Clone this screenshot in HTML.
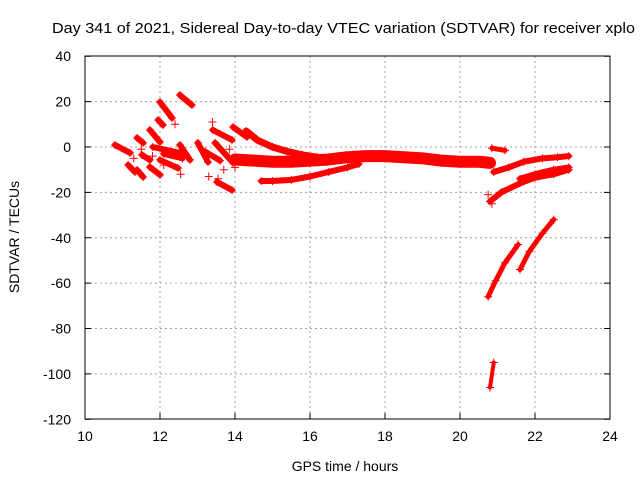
<!DOCTYPE html>
<html><head><meta charset="utf-8"><style>
body{margin:0;background:#fff}
svg{display:block;font-family:"Liberation Sans",sans-serif}
</style></head><body>
<svg id="chart" width="640" height="480">
<text x="52" y="33" font-size="15" textLength="583" lengthAdjust="spacingAndGlyphs" fill="#000">Day 341 of 2021, Sidereal Day-to-day VTEC variation (SDTVAR) for receiver xplo</text>
<text x="345" y="471" font-size="14" text-anchor="middle">GPS time / hours</text>
<text transform="translate(19,237) rotate(-90)" font-size="14" text-anchor="middle">SDTVAR / TECUs</text>
<g id="grid"></g><g id="marks"></g><g id="axes"></g>
</svg>
<script>
const xTicks=[10,12,14,16,18,20,22,24];
const yTicks=[40,20,0,-20,-40,-60,-80,-100,-120];
// arcs: x arrays and y arrays
const arcX=[
 [14.0,14.5,15,15.5,16,16.5,17,17.5,18,18.5,19,19.5,20,20.5,20.8],
 [14.3,14.6,15,15.4,15.8,16.2],
 [14.7,15,15.5,16,16.5,17,17.3],
 [20.85,21.2],
 [20.9,21.3,21.7,22.2,22.6,22.9],
 [20.8,21.1,21.6,22,22.5,22.9],
 [21.6,22,22.5,22.9],
 [20.75,20.95,21.2,21.55],
 [21.6,21.85,22.2,22.5],
 [20.8,20.9]
];
const arcY=[
 [-5.5,-6,-6.5,-6.5,-6,-5.5,-4.5,-4,-4,-4.5,-5,-6,-6.5,-6.5,-7],
 [7,3,0,-2,-3.5,-4.5],
 [-15,-15,-14.5,-13,-11,-9,-7.5],
 [-0.5,-1.5],
 [-11,-9,-6.5,-5,-4.5,-4],
 [-24,-20,-16,-13.5,-12,-10],
 [-14,-12,-10,-9],
 [-66,-59,-51,-43],
 [-54,-46,-38,-32],
 [-106,-95]
];
const arcW=[12,7,6,5,6,6,6,5,5,4];
const streakX1=[12.53,12.0,11.95,11.73,10.8,11.39,11.81,12.53,11.15,11.73,12.0,11.39,13.01,13.41,13.47,13.52,13.95,11.52,12.1,13.2];
const streakX2=[12.85,12.32,12.08,12.0,11.2,11.55,12.53,12.8,11.33,12.0,12.48,11.55,13.28,13.92,13.95,13.92,14.32,11.73,12.6,13.6];
const streakY1=[22.9,19.8,11.9,7.5,0.9,4,0,0.9,-7.9,-8.8,-5.7,-10.1,1.8,7.5,1.8,-15.4,8.8,-3.5,-3,-2];
const streakY2=[18.5,12.8,9.7,2.2,-2.6,1.8,-2.6,-5.7,-11,-12.3,-9.3,-13.2,-6.6,3.1,-7,-19,4.4,-5.7,-5,-6];
const ptX=[13.4,12.4,11.3,11.8,12.55,13.3,13.7,13.55,14.0,13.85,12.1,11.5,20.75,20.85];
const ptY=[11,10,-5,-4,-12,-13,-10,-14,-9,-1,-8,-1,-21,-25];
const X=v=>85+(v-10)*37.5, Y=v=>147-v*2.2688;
const NS="http://www.w3.org/2000/svg";
function mk(t,a,p){const e=document.createElementNS(NS,t);for(const k in a)e.setAttribute(k,a[k]);p.appendChild(e);return e;}
const grid=document.getElementById('grid'),marks=document.getElementById('marks'),axes=document.getElementById('axes');
xTicks.forEach(t=>{
 if(t>10&&t<24){const l=mk('line',{x1:X(t),x2:X(t),y1:56,y2:419,stroke:'#a0a0a0','stroke-dasharray':'2,3'},grid);
 
 }
 const tk=mk('line',{x1:X(t),x2:X(t),y1:419,y2:413,stroke:'#000'},axes);
 
 
 const tx=mk('text',{x:X(t),y:441,'font-size':14,'text-anchor':'middle'},axes);tx.textContent=t;
 
 
});
yTicks.forEach(t=>{
 if(t<40&&t>-120){const l=mk('line',{x1:85,x2:610,y1:Y(t),y2:Y(t),stroke:'#a0a0a0','stroke-dasharray':'2,3'},grid);
 
 }
 const a=mk('line',{x1:85,x2:91,y1:Y(t),y2:Y(t),stroke:'#000'},axes);
 
 
 const b=mk('line',{x1:604,x2:610,y1:Y(t),y2:Y(t),stroke:'#000'},axes);
 
 
 const tx=mk('text',{x:71,y:Y(t)+5,'font-size':14,'text-anchor':'end'},axes);tx.textContent=t;
 
 
});
const fr=mk('rect',{x:85,y:56,width:525,height:363,fill:'none',stroke:'#000'},axes);


function plus(x,y){const p=mk('path',{d:`M${x-4},${y}h8M${x},${y-4}v8`,stroke:'#f00','stroke-width':1},marks);
 
 }
arcX.forEach((xs,i)=>{
 const pts=xs.map((x,j)=>X(x)+','+Y(arcY[i][j])).join(' ');
 const pl=mk('polyline',{points:pts,fill:'none',stroke:'#f00','stroke-width':arcW[i],'stroke-linecap':'round','stroke-linejoin':'round'},marks);
 
 
 xs.forEach((x,j)=>plus(X(x),Y(arcY[i][j])));
});
streakX1.forEach((x,i)=>{
 const l=mk('line',{x1:X(x),y1:Y(streakY1[i]),x2:X(streakX2[i]),y2:Y(streakY2[i]),stroke:'#f00','stroke-width':6,'stroke-linecap':'round'},marks);
 
 
 plus(X(x),Y(streakY1[i]));plus(X(streakX2[i]),Y(streakY2[i]));
});
ptX.forEach((x,i)=>plus(X(x),Y(ptY[i])));
</script>
</body></html>
